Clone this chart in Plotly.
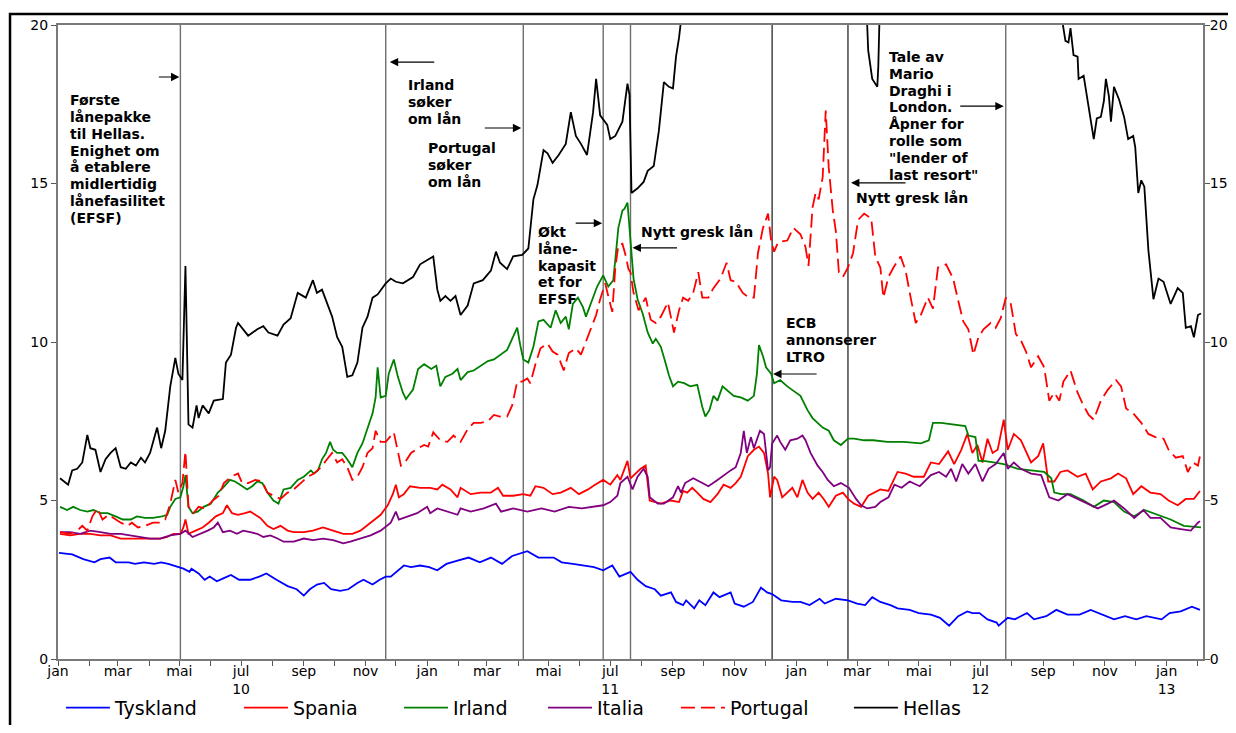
import plotly.graph_objects as go

# ---------------- data (10-year government bond yields, per cent) ----------------
tyskland = [("2010-01-02",3.35),("2010-01-15",3.3),("2010-01-26",3.15),("2010-02-06",3.05),("2010-02-12",3.15),("2010-02-21",3.2),("2010-02-27",3.05),("2010-03-12",3.05),("2010-03-18",3.0),("2010-03-27",3.05),("2010-04-06",3.0),("2010-04-13",3.05),("2010-04-20",3.0),("2010-04-30",2.9),("2010-05-05",2.85),("2010-05-11",2.75),("2010-05-13",2.85),("2010-05-20",2.7),("2010-05-26",2.5),("2010-05-31",2.6),("2010-06-07",2.45),("2010-06-14",2.55),("2010-06-21",2.65),("2010-06-29",2.5),("2010-07-10",2.5),("2010-07-19",2.6),("2010-07-26",2.7),("2010-08-05",2.5),("2010-08-16",2.3),("2010-08-25",2.2),("2010-09-01",2.0),("2010-09-07",2.2),("2010-09-14",2.35),("2010-09-21",2.4),("2010-09-28",2.2),("2010-10-07",2.15),("2010-10-15",2.2),("2010-10-24",2.4),("2010-10-30",2.5),("2010-11-08",2.35),("2010-11-15",2.5),("2010-11-21",2.6),("2010-11-26",2.6),("2010-12-09",2.95),("2010-12-16",2.9),("2010-12-25",2.95),("2011-01-03",2.9),("2011-01-11",2.8),("2011-01-20",3.0),("2011-01-31",3.1),("2011-02-11",3.2),("2011-02-22",3.05),("2011-03-05",3.2),("2011-03-16",3.0),("2011-03-26",3.25),("2011-04-10",3.4),("2011-04-21",3.2),("2011-05-06",3.2),("2011-05-14",3.05),("2011-05-25",3.0),("2011-06-05",2.95),("2011-06-15",2.9),("2011-06-24",2.8),("2011-07-03",2.95),("2011-07-10",2.6),("2011-07-21",2.75),("2011-07-28",2.5),("2011-08-05",2.3),("2011-08-14",2.2),("2011-08-20",2.0),("2011-08-30",2.1),("2011-09-04",1.8),("2011-09-11",1.7),("2011-09-14",1.85),("2011-09-22",1.6),("2011-09-27",1.85),("2011-10-03",1.7),("2011-10-11",2.1),("2011-10-17",1.95),("2011-10-28",2.1),("2011-11-01",1.75),("2011-11-10",1.65),("2011-11-19",1.8),("2011-11-27",2.25),("2011-12-03",2.1),("2011-12-08",2.05),("2011-12-17",1.85),("2011-12-28",1.8),("2012-01-05",1.8),("2012-01-14",1.7),("2012-01-24",1.9),("2012-01-29",1.75),("2012-02-09",1.9),("2012-02-21",1.85),("2012-03-01",1.75),("2012-03-09",1.7),("2012-03-16",1.95),("2012-03-24",1.8),("2012-04-03",1.7),("2012-04-10",1.6),("2012-04-22",1.55),("2012-05-01",1.45),("2012-05-13",1.4),("2012-05-22",1.3),("2012-05-31",1.05),("2012-06-09",1.35),("2012-06-18",1.5),("2012-06-23",1.45),("2012-06-30",1.45),("2012-07-08",1.25),("2012-07-17",1.15),("2012-07-19",1.05),("2012-07-28",1.3),("2012-08-04",1.25),("2012-08-16",1.45),("2012-08-23",1.25),("2012-09-04",1.35),("2012-09-14",1.55),("2012-09-25",1.4),("2012-10-07",1.4),("2012-10-18",1.55),("2012-10-29",1.4),("2012-11-10",1.25),("2012-11-21",1.35),("2012-12-02",1.25),("2012-12-12",1.35),("2012-12-27",1.25),("2013-01-04",1.45),("2013-01-15",1.5),("2013-01-26",1.65),("2013-02-03",1.55)]

spania = [("2010-01-03",3.95),("2010-01-13",3.9),("2010-01-23",3.95),("2010-02-02",3.95),("2010-02-12",3.9),("2010-02-22",3.9),("2010-03-04",3.8),("2010-03-14",3.8),("2010-03-23",3.8),("2010-04-02",3.8),("2010-04-12",3.8),("2010-04-19",3.85),("2010-04-25",3.95),("2010-05-02",3.95),("2010-05-05",4.15),("2010-05-07",4.4),("2010-05-10",3.95),("2010-05-17",4.05),("2010-05-24",4.15),("2010-05-30",4.3),("2010-06-06",4.5),("2010-06-13",4.6),("2010-06-17",4.85),("2010-06-22",4.6),("2010-06-28",4.55),("2010-07-05",4.6),("2010-07-10",4.65),("2010-07-15",4.55),("2010-07-20",4.45),("2010-07-27",4.2),("2010-08-02",4.1),("2010-08-09",4.2),("2010-08-16",4.05),("2010-08-22",4.0),("2010-09-01",4.0),("2010-09-10",4.05),("2010-09-20",4.15),("2010-09-30",4.05),("2010-10-10",3.95),("2010-10-19",3.95),("2010-10-27",4.05),("2010-11-06",4.3),("2010-11-16",4.55),("2010-11-23",4.85),("2010-11-28",5.2),("2010-12-01",5.5),("2010-12-04",5.1),("2010-12-09",5.2),("2010-12-15",5.45),("2010-12-25",5.4),("2011-01-04",5.4),("2011-01-11",5.35),("2011-01-16",5.5),("2011-01-24",5.35),("2011-01-31",5.1),("2011-02-03",5.4),("2011-02-13",5.2),("2011-02-23",5.25),("2011-03-05",5.25),("2011-03-12",5.4),("2011-03-17",5.15),("2011-03-27",5.15),("2011-04-06",5.2),("2011-04-13",5.15),("2011-04-18",5.45),("2011-04-26",5.4),("2011-05-05",5.2),("2011-05-13",5.25),("2011-05-23",5.4),("2011-05-31",5.2),("2011-06-09",5.35),("2011-06-16",5.5),("2011-06-24",5.65),("2011-07-01",5.5),("2011-07-08",5.8),("2011-07-11",5.65),("2011-07-18",6.25),("2011-07-21",5.7),("2011-07-26",5.85),("2011-07-31",6.0),("2011-08-05",6.1),("2011-08-09",5.0),("2011-08-20",4.9),("2011-08-30",5.0),("2011-09-07",4.95),("2011-09-11",5.3),("2011-09-15",5.25),("2011-09-20",5.4),("2011-09-25",5.25),("2011-10-01",5.05),("2011-10-08",4.95),("2011-10-15",5.2),("2011-10-21",5.5),("2011-10-28",5.4),("2011-11-02",5.55),("2011-11-07",5.75),("2011-11-14",6.4),("2011-11-20",6.6),("2011-11-25",6.7),("2011-11-30",6.5),("2011-12-04",5.85),("2011-12-06",5.1),("2011-12-10",5.75),("2011-12-13",5.65),("2011-12-18",5.1),("2011-12-23",5.25),("2011-12-28",5.4),("2012-01-02",5.1),("2012-01-07",5.65),("2012-01-12",5.25),("2012-01-17",5.05),("2012-01-23",5.25),("2012-01-28",5.05),("2012-02-02",4.8),("2012-02-09",5.15),("2012-02-16",5.25),("2012-02-21",5.05),("2012-02-27",4.9),("2012-03-05",4.8),("2012-03-12",5.15),("2012-03-24",5.35),("2012-04-01",5.3),("2012-04-10",5.9),("2012-04-18",5.85),("2012-04-26",5.75),("2012-05-06",5.75),("2012-05-13",6.2),("2012-05-21",6.15),("2012-05-30",6.55),("2012-06-05",6.15),("2012-06-12",6.6),("2012-06-18",7.1),("2012-06-23",6.5),("2012-06-28",6.75),("2012-07-03",6.2),("2012-07-08",6.95),("2012-07-13",6.5),("2012-07-18",6.6),("2012-07-24",7.55),("2012-07-28",6.6),("2012-08-03",7.1),("2012-08-10",6.9),("2012-08-20",6.2),("2012-08-27",6.4),("2012-09-01",6.8),("2012-09-06",5.6),("2012-09-12",5.6),("2012-09-18",5.9),("2012-09-25",5.95),("2012-10-05",5.75),("2012-10-13",5.85),("2012-10-20",5.35),("2012-10-28",5.6),("2012-11-07",5.7),("2012-11-14",5.85),("2012-11-22",5.7),("2012-11-29",5.2),("2012-12-07",5.45),("2012-12-16",5.25),("2012-12-26",5.2),("2013-01-03",5.0),("2013-01-12",4.85),("2013-01-20",5.05),("2013-01-28",5.05),("2013-02-03",5.3)]

irland = [("2010-01-03",4.8),("2010-01-10",4.7),("2010-01-16",4.8),("2010-01-23",4.7),("2010-01-30",4.65),("2010-02-05",4.7),("2010-02-12",4.6),("2010-02-19",4.6),("2010-02-27",4.5),("2010-03-06",4.4),("2010-03-14",4.4),("2010-03-20",4.5),("2010-03-28",4.45),("2010-04-05",4.45),("2010-04-14",4.5),("2010-04-19",4.55),("2010-04-22",4.8),("2010-04-27",5.05),("2010-05-02",5.1),("2010-05-05",5.45),("2010-05-07",5.8),("2010-05-10",4.8),("2010-05-14",4.6),("2010-05-19",4.65),("2010-05-25",4.8),("2010-06-01",4.9),("2010-06-08",5.25),("2010-06-13",5.4),("2010-06-20",5.65),("2010-06-25",5.6),("2010-06-30",5.5),("2010-07-07",5.35),("2010-07-12",5.45),("2010-07-17",5.6),("2010-07-22",5.55),("2010-07-27",5.25),("2010-08-02",5.0),("2010-08-07",4.9),("2010-08-12",5.35),("2010-08-19",5.4),("2010-08-26",5.65),("2010-09-01",5.75),("2010-09-08",5.95),("2010-09-11",5.85),("2010-09-15",5.95),("2010-09-19",6.3),("2010-09-23",6.5),("2010-09-27",6.85),("2010-09-30",6.6),("2010-10-04",6.5),("2010-10-09",6.5),("2010-10-14",6.3),("2010-10-19",6.05),("2010-10-24",6.5),("2010-10-29",6.8),("2010-11-03",7.3),("2010-11-08",7.75),("2010-11-11",8.25),("2010-11-13",9.2),("2010-11-16",8.25),("2010-11-21",8.3),("2010-11-24",9.0),("2010-11-29",9.45),("2010-12-03",8.9),("2010-12-08",8.4),("2010-12-11",8.2),("2010-12-18",8.5),("2010-12-23",9.15),("2010-12-29",9.3),("2011-01-05",9.15),("2011-01-10",9.25),("2011-01-14",8.6),("2011-01-19",8.9),("2011-01-26",9.0),("2011-01-31",9.15),("2011-02-03",8.8),("2011-02-10",9.05),("2011-02-16",9.1),("2011-02-23",9.25),("2011-03-02",9.4),("2011-03-08",9.45),("2011-03-14",9.6),("2011-03-21",9.75),("2011-03-26",10.1),("2011-03-31",10.45),("2011-04-03",9.9),("2011-04-06",9.45),("2011-04-11",9.35),("2011-04-16",9.85),("2011-04-21",10.65),("2011-04-26",10.7),("2011-05-03",10.45),("2011-05-08",11.0),("2011-05-13",10.6),("2011-05-18",10.8),("2011-05-21",10.4),("2011-05-25",11.2),("2011-05-30",11.4),("2011-06-04",11.1),("2011-06-07",10.8),("2011-06-12",11.25),("2011-06-18",11.75),("2011-06-24",12.1),("2011-06-29",11.75),("2011-07-04",11.95),("2011-07-09",13.6),("2011-07-13",14.15),("2011-07-15",14.2),("2011-07-18",14.4),("2011-07-21",13.1),("2011-07-24",12.0),("2011-07-28",11.35),("2011-08-02",10.9),("2011-08-07",10.3),("2011-08-12",9.95),("2011-08-15",10.1),("2011-08-20",9.85),("2011-08-25",9.3),("2011-08-28",8.95),("2011-09-01",8.6),("2011-09-06",8.75),("2011-09-12",8.7),("2011-09-18",8.6),("2011-09-25",8.65),("2011-09-30",7.95),("2011-10-03",7.65),("2011-10-07",7.85),("2011-10-11",8.3),("2011-10-15",8.15),("2011-10-20",8.6),("2011-10-25",8.45),("2011-10-31",8.3),("2011-11-07",8.25),("2011-11-14",8.15),("2011-11-20",8.3),("2011-11-23",9.0),("2011-11-25",9.9),("2011-11-29",9.55),("2011-12-02",9.2),("2011-12-07",9.0),("2011-12-10",8.7),("2011-12-16",8.8),("2011-12-23",8.6),("2011-12-29",8.45),("2012-01-05",8.3),("2012-01-12",7.85),("2012-01-17",7.6),("2012-01-22",7.45),("2012-01-27",7.3),("2012-02-02",7.2),("2012-02-07",6.9),("2012-02-14",6.75),("2012-02-21",6.95),("2012-02-27",6.95),("2012-03-08",6.9),("2012-03-17",6.9),("2012-03-31",6.85),("2012-04-16",6.85),("2012-05-03",6.8),("2012-05-11",6.9),("2012-05-15",7.45),("2012-05-23",7.45),("2012-06-05",7.4),("2012-06-16",7.35),("2012-06-19",7.05),("2012-06-26",7.0),("2012-06-29",6.25),("2012-07-04",6.25),("2012-07-14",6.2),("2012-07-24",6.15),("2012-08-07",6.0),("2012-08-20",5.95),("2012-09-02",5.9),("2012-09-09",5.7),("2012-09-12",5.25),("2012-09-19",5.2),("2012-09-28",5.2),("2012-10-11",5.0),("2012-10-21",4.8),("2012-10-31",5.0),("2012-11-10",4.95),("2012-11-20",4.65),("2012-11-30",4.5),("2012-12-10",4.7),("2012-12-23",4.55),("2013-01-05",4.4),("2013-01-18",4.2),("2013-02-01",4.15),("2013-02-04",4.15)]

italia = [("2010-01-03",4.0),("2010-01-13",4.0),("2010-01-23",3.95),("2010-02-02",4.05),("2010-02-12",4.0),("2010-02-22",3.95),("2010-03-04",3.95),("2010-03-14",3.9),("2010-03-23",3.85),("2010-04-02",3.8),("2010-04-12",3.8),("2010-04-22",3.9),("2010-05-02",3.95),("2010-05-07",4.05),("2010-05-14",3.85),("2010-05-22",3.95),("2010-05-29",4.05),("2010-06-04",4.15),("2010-06-08",4.3),("2010-06-13",4.0),("2010-06-20",4.05),("2010-06-27",3.95),("2010-07-03",4.05),("2010-07-10",4.0),("2010-07-17",3.95),("2010-07-23",3.85),("2010-07-30",3.9),("2010-08-06",3.8),("2010-08-12",3.7),("2010-08-22",3.7),("2010-09-01",3.8),("2010-09-10",3.75),("2010-09-20",3.8),("2010-09-30",3.75),("2010-10-10",3.65),("2010-10-17",3.7),("2010-10-27",3.8),("2010-11-06",3.9),("2010-11-16",4.05),("2010-11-26",4.3),("2010-12-01",4.65),("2010-12-04",4.4),("2010-12-13",4.5),("2010-12-22",4.6),("2011-01-01",4.8),("2011-01-04",4.6),("2011-01-11",4.75),("2011-01-21",4.65),("2011-01-31",4.55),("2011-02-03",4.75),("2011-02-13",4.65),("2011-02-26",4.75),("2011-03-10",4.9),("2011-03-15",4.65),("2011-03-27",4.75),("2011-04-10",4.65),("2011-04-24",4.75),("2011-05-07",4.65),("2011-05-21",4.8),("2011-06-03",4.75),("2011-06-15",4.8),("2011-06-24",4.85),("2011-07-01",4.95),("2011-07-08",5.15),("2011-07-11",5.55),("2011-07-18",5.75),("2011-07-23",5.35),("2011-07-28",5.75),("2011-08-03",6.0),("2011-08-07",5.75),("2011-08-09",5.1),("2011-08-17",4.9),("2011-08-23",4.9),("2011-09-01",5.1),("2011-09-06",5.45),("2011-09-09",5.25),("2011-09-13",5.55),("2011-09-21",5.7),("2011-09-30",5.55),("2011-10-06",5.45),("2011-10-15",5.65),("2011-10-21",5.8),("2011-10-28",5.95),("2011-11-02",6.05),("2011-11-07",6.5),("2011-11-10",7.2),("2011-11-13",6.5),("2011-11-17",7.0),("2011-11-20",6.65),("2011-11-26",7.2),("2011-11-30",7.1),("2011-12-04",5.95),("2011-12-06",6.05),("2011-12-08",6.8),("2011-12-13",7.05),("2011-12-16",6.85),("2011-12-21",6.6),("2011-12-26",6.9),("2012-01-02",6.95),("2012-01-07",7.05),("2012-01-10",6.9),("2012-01-15",6.5),("2012-01-22",6.1),("2012-01-27",5.9),("2012-02-01",5.65),("2012-02-07",5.45),("2012-02-14",5.55),("2012-02-22",5.4),("2012-02-29",5.05),("2012-03-05",4.85),("2012-03-11",4.75),("2012-03-19",4.8),("2012-03-24",4.95),("2012-04-01",5.1),("2012-04-07",5.5),("2012-04-14",5.4),("2012-04-22",5.6),("2012-05-02",5.45),("2012-05-13",5.8),("2012-05-21",5.9),("2012-05-28",5.75),("2012-06-02",6.0),("2012-06-07",5.6),("2012-06-13",6.15),("2012-06-19",5.85),("2012-06-26",6.15),("2012-07-03",5.6),("2012-07-09",6.0),("2012-07-16",6.15),("2012-07-24",6.5),("2012-07-28",6.0),("2012-08-03",6.2),("2012-08-10",6.0),("2012-08-20",5.85),("2012-08-30",5.8),("2012-09-07",5.1),("2012-09-16",5.0),("2012-09-25",5.2),("2012-10-05",5.05),("2012-10-15",4.9),("2012-10-25",4.75),("2012-11-04",4.9),("2012-11-10",5.0),("2012-11-20",4.75),("2012-11-30",4.45),("2012-12-09",4.7),("2012-12-16",4.45),("2012-12-26",4.45),("2013-01-05",4.15),("2013-01-15",4.1),("2013-01-25",4.05),("2013-02-01",4.3),("2013-02-03",4.35)]

portugal = [("2010-01-03",4.0),("2010-01-13",3.95),("2010-01-20",4.05),("2010-01-25",4.2),("2010-01-30",4.05),("2010-02-04",4.5),("2010-02-09",4.75),("2010-02-14",4.4),("2010-02-20",4.55),("2010-02-25",4.45),("2010-03-04",4.3),("2010-03-11",4.2),("2010-03-15",4.3),("2010-03-21",4.15),("2010-03-28",4.2),("2010-04-05",4.3),("2010-04-12",4.3),("2010-04-17",4.4),("2010-04-22",4.9),("2010-04-27",5.65),("2010-04-30",5.25),("2010-05-04",5.55),("2010-05-05",5.95),("2010-05-07",6.55),("2010-05-10",4.8),("2010-05-15",4.6),("2010-05-20",4.8),("2010-05-27",4.75),("2010-06-03",5.0),("2010-06-09",5.15),("2010-06-14",5.55),("2010-06-21",5.75),("2010-06-28",5.85),("2010-07-02",5.55),("2010-07-08",5.55),("2010-07-15",5.65),("2010-07-22",5.6),("2010-07-27",5.25),("2010-08-02",5.15),("2010-08-09",5.05),("2010-08-16",5.25),("2010-08-22",5.35),("2010-08-29",5.55),("2010-09-05",5.75),("2010-09-11",5.85),("2010-09-18",6.05),("2010-09-24",6.3),("2010-09-29",6.5),("2010-10-04",6.2),("2010-10-09",6.3),("2010-10-14",6.05),("2010-10-19",5.65),("2010-10-24",5.75),("2010-10-29",6.05),("2010-11-03",6.5),("2010-11-08",6.65),("2010-11-11",7.2),("2010-11-16",6.85),("2010-11-21",6.85),("2010-11-26",7.05),("2010-11-29",7.15),("2010-12-03",6.55),("2010-12-06",6.1),("2010-12-09",6.15),("2010-12-16",6.5),("2010-12-23",6.65),("2010-12-29",6.75),("2011-01-02",6.7),("2011-01-07",7.15),("2011-01-14",6.9),("2011-01-21",6.85),("2011-01-27",7.05),("2011-02-03",6.85),("2011-02-10",7.25),("2011-02-16",7.45),("2011-02-23",7.45),("2011-03-02",7.5),("2011-03-08",7.7),("2011-03-14",7.65),("2011-03-21",7.65),("2011-03-26",8.0),("2011-03-31",8.75),("2011-04-05",8.75),("2011-04-10",8.85),("2011-04-13",8.7),("2011-04-18",9.3),("2011-04-23",9.8),("2011-04-30",9.95),("2011-05-05",9.7),("2011-05-10",9.6),("2011-05-16",9.1),("2011-05-21",9.65),("2011-05-28",9.8),("2011-06-02",9.6),("2011-06-07",10.0),("2011-06-12",10.45),("2011-06-17",10.85),("2011-06-21",11.35),("2011-06-26",11.85),("2011-06-29",11.45),("2011-07-03",10.95),("2011-07-06",12.35),("2011-07-09",13.05),("2011-07-13",13.1),("2011-07-16",12.75),("2011-07-19",12.3),("2011-07-21",12.2),("2011-07-24",11.55),("2011-07-29",11.0),("2011-08-05",11.4),("2011-08-10",10.7),("2011-08-15",10.6),("2011-08-20",10.8),("2011-08-27",11.25),("2011-09-02",10.3),("2011-09-07",11.0),("2011-09-11",11.4),("2011-09-16",11.3),("2011-09-21",11.55),("2011-09-26",12.2),("2011-09-30",11.4),("2011-10-06",11.4),("2011-10-11",11.7),("2011-10-18",12.0),("2011-10-24",12.5),("2011-10-28",11.95),("2011-11-02",11.9),("2011-11-09",11.55),("2011-11-15",11.4),("2011-11-20",11.4),("2011-11-24",12.8),("2011-11-29",13.6),("2011-12-04",14.05),("2011-12-07",13.2),("2011-12-10",12.85),("2011-12-14",13.15),("2011-12-23",13.2),("2011-12-29",13.6),("2012-01-05",13.4),("2012-01-10",13.0),("2012-01-13",12.4),("2012-01-17",14.25),("2012-01-20",14.7),("2012-01-23",14.5),("2012-01-27",15.2),("2012-01-30",17.3),("2012-02-02",15.5),("2012-02-06",14.15),("2012-02-09",13.5),("2012-02-12",12.2),("2012-02-16",12.05),("2012-02-21",12.35),("2012-02-26",12.8),("2012-03-02",13.85),("2012-03-08",14.05),("2012-03-15",13.9),("2012-03-19",12.7),("2012-03-24",12.35),("2012-03-27",11.4),("2012-04-01",12.05),("2012-04-06",12.35),("2012-04-13",12.7),("2012-04-18",12.25),("2012-04-23",11.4),("2012-04-28",10.6),("2012-05-03",10.85),("2012-05-10",11.4),("2012-05-15",11.05),("2012-05-20",12.35),("2012-05-28",12.45),("2012-06-04",12.0),("2012-06-09",11.3),("2012-06-14",10.65),("2012-06-19",10.4),("2012-06-24",9.6),("2012-06-29",10.15),("2012-07-04",10.4),("2012-07-11",10.6),("2012-07-16",10.45),("2012-07-21",10.75),("2012-07-26",11.4),("2012-07-31",11.2),("2012-08-05",10.25),("2012-08-10",10.05),("2012-08-15",9.7),("2012-08-20",9.2),("2012-08-27",9.55),("2012-09-02",9.2),("2012-09-07",8.15),("2012-09-12",8.4),("2012-09-17",8.15),("2012-09-21",8.75),("2012-09-28",9.1),("2012-10-05",8.4),("2012-10-10",8.05),("2012-10-16",7.7),("2012-10-21",7.55),("2012-10-28",8.15),("2012-11-04",8.5),("2012-11-12",8.8),("2012-11-17",8.6),("2012-11-22",7.9),("2012-11-29",7.75),("2012-12-07",7.45),("2012-12-14",7.1),("2012-12-21",7.0),("2012-12-29",6.95),("2013-01-03",6.6),("2013-01-10",6.35),("2013-01-17",6.4),("2013-01-22",5.9),("2013-01-27",6.2),("2013-02-01",6.1),("2013-02-03",6.4)]

hellas = [("2010-01-03",5.7),("2010-01-11",5.5),("2010-01-15",5.95),("2010-01-20",6.0),("2010-01-25",6.2),("2010-01-30",7.07),("2010-02-02",6.65),("2010-02-07",6.6),("2010-02-12",5.9),("2010-02-17",6.3),("2010-02-22",6.5),("2010-02-27",6.65),("2010-03-04",6.05),("2010-03-09",6.0),("2010-03-14",6.2),("2010-03-19",6.1),("2010-03-24",6.35),("2010-03-28",6.2),("2010-04-02",6.5),("2010-04-09",7.3),("2010-04-13",6.65),("2010-04-17",7.2),("2010-04-22",8.6),("2010-04-27",9.5),("2010-04-30",9.0),("2010-05-04",8.8),("2010-05-07",12.4),("2010-05-10",7.4),("2010-05-14",7.3),("2010-05-18",8.0),("2010-05-20",7.6),("2010-05-24",8.0),("2010-05-30",7.75),("2010-06-04",8.15),("2010-06-13",8.2),("2010-06-16",9.35),("2010-06-21",9.6),("2010-06-26",10.45),("2010-06-28",10.6),("2010-07-03",10.4),("2010-07-08",10.2),("2010-07-17",10.4),("2010-07-23",10.5),("2010-07-28",10.3),("2010-08-06",10.2),("2010-08-12",10.55),("2010-08-19",10.75),("2010-08-26",11.55),("2010-09-03",11.4),("2010-09-10",11.95),("2010-09-14",11.55),("2010-09-19",11.65),("2010-09-24",11.2),("2010-09-29",10.8),("2010-10-04",10.15),("2010-10-09",9.85),("2010-10-14",8.9),("2010-10-19",8.95),("2010-10-24",9.35),("2010-10-29",10.45),("2010-11-03",10.8),("2010-11-08",11.4),("2010-11-13",11.5),("2010-11-21",11.85),("2010-11-26",12.0),("2010-12-01",11.9),("2010-12-08",11.85),("2010-12-18",12.05),("2010-12-25",12.45),("2011-01-02",12.6),("2011-01-07",12.7),("2011-01-11",11.65),("2011-01-14",11.3),("2011-01-19",11.45),("2011-01-24",11.3),("2011-01-29",11.45),("2011-02-03",10.85),("2011-02-10",11.15),("2011-02-16",11.85),("2011-02-25",11.95),("2011-03-05",12.25),("2011-03-10",12.85),("2011-03-14",12.5),("2011-03-21",12.3),("2011-03-27",12.7),("2011-04-05",12.75),("2011-04-11",12.95),("2011-04-16",14.5),("2011-04-20",14.95),("2011-04-26",16.05),("2011-04-30",15.95),("2011-05-05",15.65),("2011-05-11",15.9),("2011-05-18",16.25),("2011-05-23",17.25),("2011-05-28",16.5),("2011-06-02",16.25),("2011-06-08",15.9),("2011-06-14",17.25),("2011-06-17",18.3),("2011-06-21",17.15),("2011-06-28",16.85),("2011-07-01",16.4),("2011-07-06",16.5),("2011-07-13",16.95),("2011-07-18",18.15),("2011-07-20",17.8),("2011-07-22",14.7),("2011-07-28",14.85),("2011-08-03",15.05),("2011-08-07",15.4),("2011-08-13",15.55),("2011-08-18",16.65),("2011-08-23",18.2),("2011-08-28",18.05),("2011-09-01",18.0),("2011-09-04",19.0),("2011-09-07",19.6),("2011-09-12",21.0),("2011-09-28",22.5),("2011-10-18",24.0),("2011-11-26",30.0),("2012-01-05",34.0),("2012-02-13",36.0),("2012-03-06",28.0),("2012-03-11",20.0),("2012-03-12",19.2),("2012-03-16",18.3),("2012-03-21",18.05),("2012-03-22",18.7),("2012-03-23",20.0),("2012-03-26",21.5),("2012-04-13",22.5),("2012-05-13",28.0),("2012-06-11",27.0),("2012-07-21",26.0),("2012-08-30",23.0),("2012-09-18",20.5),("2012-09-21",19.95),("2012-09-23",19.5),("2012-09-26",19.45),("2012-09-28",19.9),("2012-10-01",19.05),("2012-10-05",19.0),("2012-10-06",18.3),("2012-10-11",18.4),("2012-10-15",17.6),("2012-10-21",16.4),("2012-10-24",17.05),("2012-10-28",17.1),("2012-10-31",17.6),("2012-11-02",18.3),("2012-11-05",17.75),("2012-11-07",16.95),("2012-11-10",18.05),("2012-11-15",17.65),("2012-11-20",17.1),("2012-11-24",16.4),("2012-11-29",16.5),("2012-12-01",16.15),("2012-12-04",14.7),("2012-12-07",15.1),("2012-12-10",14.9),("2012-12-13",13.5),("2012-12-14",12.9),("2012-12-19",11.35),("2012-12-24",12.0),("2012-12-29",11.9),("2013-01-05",11.2),("2013-01-12",11.7),("2013-01-17",11.55),("2013-01-20",10.45),("2013-01-25",10.5),("2013-01-28",10.15),("2013-02-01",10.85),("2013-02-04",10.9)]

series_names = ["Tyskland", "Spania", "Irland", "Italia", "Portugal", "Hellas"]
series_data = [tyskland, spania, irland, italia, portugal, hellas]

# event dates (vertical lines)
event_dates = ["2010-05-02", "2010-11-21", "2011-04-06", "2011-06-24", "2011-07-21", "2011-12-08", "2012-02-21", "2012-07-26"]

# annotation texts: (anchor date, top value, lines)
notes = [
    ("2010-01-11", 17.63, ["Første", "lånepakke", "til Hellas.", "Enighet om", "å etablere", "midlertidig", "lånefasilitet", "(EFSF)"]),
    ("2010-12-11", 18.11, ["Irland", "søker", "om lån"]),
    ("2010-12-31", 16.12, ["Portugal", "søker", "om lån"]),
    ("2011-04-19", 13.47, ["Økt", "låne-", "kapasit", "et for", "EFSF"]),
    ("2011-07-29", 13.47, ["Nytt gresk lån"]),
    ("2011-12-20", 10.60, ["ECB", "annonserer", "LTRO"]),
    ("2012-03-31", 18.99, ["Tale av", "Mario", "Draghi i", "London.", "Åpner for", "rolle som", "\"lender of", "last resort\""]),
    ("2012-02-27", 14.54, ["Nytt gresk lån"]),
]
# arrows: (head date, head value, tail offset in px)
arrows = [
    ("2010-05-01", 18.36, -22), ("2010-11-25", 18.83, 46), ("2011-04-04", 16.75, -38),
    ("2011-06-23", 13.75, -28), ("2011-07-23", 12.97, 46), ("2011-12-09", 8.99, 45),
    ("2012-02-24", 15.02, 56), ("2012-07-24", 17.44, -45),
]

month_names = ["jan", "feb", "mar", "apr", "mai", "jun", "jul", "aug", "sep", "okt", "nov", "des"]
year_labels = {(2010, 7): "10", (2011, 7): "11", (2012, 7): "12", (2013, 1): "13"}
y_ticks = [0, 5, 10, 15, 20]

# ---------------- styling ----------------
# the page body has an 8px margin, so the figure is sized/placed to account for it
colors = ["#0000FF", "#FF0000", "#008000", "#800080", "#FF0000", "#000000"]
dashes = ["solid", "solid", "solid", "solid", "14px,6px", "solid"]
legend_x = [0.0434, 0.1893, 0.3205, 0.4385, 0.5475, 0.6893]   # container fractions
FONT = "DejaVu Sans"

fig = go.Figure()
for i, (name, data) in enumerate(zip(series_names, series_data)):
    xs = [d for d, _ in data]
    ys = [v for _, v in data]
    lg = "legend" if i == 0 else f"legend{i+1}"
    fig.add_trace(go.Scatter(x=xs, y=ys, mode="lines", name=name,
                             line=dict(color=colors[i], width=1.8, dash=dashes[i]),
                             legend=lg))
# trace to register right-hand axis
fig.add_trace(go.Scatter(x=[tyskland[0][0]], y=[None], yaxis="y2", showlegend=False, hoverinfo="skip"))

# month ticks
tickvals, ticktext = [], []
for year in range(2010, 2014):
    for m in range(1, 13):
        if year == 2013 and m > 2:
            break
        tickvals.append(f"{year}-{m:02d}-01")
        lab = month_names[m - 1] if (m % 2 == 1) else ""
        if (year, m) in year_labels:
            lab = lab + "<br>" + year_labels[(year, m)]
        ticktext.append(lab)

shapes = []
for d in event_dates:
    black = d in ("2011-12-08", "2012-02-21")
    shapes.append(dict(type="line", xref="x", yref="y", x0=d, x1=d, y0=0, y1=20,
                       line=dict(color="#000000" if black else "#6e6e6e", width=1.1 if black else 1.4),
                       layer="below"))
# outer frame
shapes.append(dict(type="rect", xref="paper", yref="paper", x0=-0.0419, x1=1.1, y0=-0.3, y1=1.0174,
                   line=dict(color="black", width=2.5), fillcolor="rgba(0,0,0,0)"))

annotations = []
step = 0.53
for d, top, lines in notes:
    for k, line in enumerate(lines):
        annotations.append(dict(x=d, y=top - k * step, xref="x", yref="y", text=f"<b>{line}</b>",
                                showarrow=False, xanchor="left", yanchor="middle",
                                font=dict(family=FONT, size=14, color="black")))
for d, v, ax in arrows:
    annotations.append(dict(x=d, y=v, xref="x", yref="y", text="", showarrow=True, ax=ax, ay=0,
                            arrowhead=2, arrowsize=1.4, arrowwidth=1.2, arrowcolor="black", standoff=0))

axis_common = dict(showgrid=False, zeroline=False, showline=True, linecolor="#7a7a7a", linewidth=2,
                   ticks="outside", ticklen=5, tickcolor="#555", tickwidth=1, automargin=False,
                   tickfont=dict(family=FONT, size=14, color="black"))

layout = dict(
    width=1220, height=717,
    margin=dict(l=50, r=25, t=17, b=66, autoexpand=False),
    paper_bgcolor="white", plot_bgcolor="white",
    showlegend=True,
    xaxis=dict(type="date", range=["2010-01-01", "2013-02-06"], tickvals=tickvals, ticktext=ticktext,
               tickangle=0, mirror=True, ticklabelstandoff=-7, **axis_common),
    yaxis=dict(range=[0, 20], tickvals=y_ticks, **axis_common),
    yaxis2=dict(range=[0, 20], tickvals=y_ticks, overlaying="y", side="right",
                ticklabelstandoff=-3, **axis_common),
    shapes=shapes, annotations=annotations,
)
for i in range(6):
    key = "legend" if i == 0 else f"legend{i+1}"
    layout[key] = dict(orientation="h", xref="container", yref="container",
                       x=legend_x[i], xanchor="left", y=0.024, yanchor="middle",
                       bgcolor="rgba(0,0,0,0)", borderwidth=0, itemwidth=44,
                       font=dict(family=FONT, size=19, color="black"))
fig.update_layout(**layout)
fig.write_html("out.html")
